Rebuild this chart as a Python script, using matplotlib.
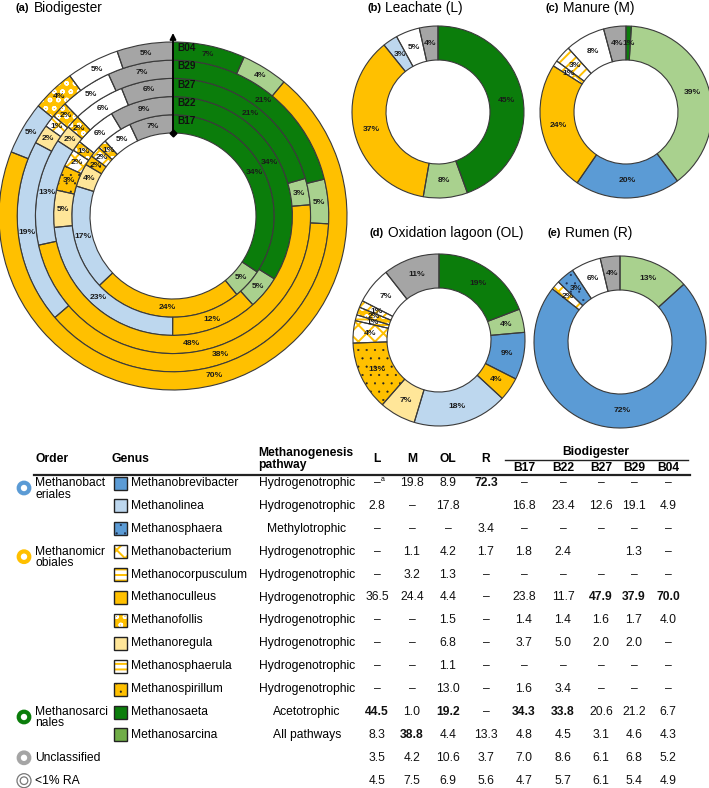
import numpy as np
import matplotlib
matplotlib.use("Agg")
import matplotlib.pyplot as plt
from matplotlib.patches import Rectangle, Circle

plt.rcParams['font.family'] = ['Liberation Sans', 'DejaVu Sans']
plt.rcParams['hatch.linewidth'] = 1.4

# ---------------- data ----------------
NA = np.nan   # blank cell
D = None      # dash "–"

genera = ["Methanobrevibacter", "Methanolinea", "Methanosphaera", "Methanobacterium",
          "Methanocorpusculum", "Methanoculleus", "Methanofollis", "Methanoregula",
          "Methanosphaerula", "Methanospirillum", "Methanosaeta", "Methanosarcina"]
pathways = ["Hydrogenotrophic", "Hydrogenotrophic", "Methylotrophic", "Hydrogenotrophic",
            "Hydrogenotrophic", "Hydrogenotrophic", "Hydrogenotrophic", "Hydrogenotrophic",
            "Hydrogenotrophic", "Hydrogenotrophic", "Acetotrophic", "All pathways"]
extra_rows = ["Unclassified", "<1% RA"]
orders = [("Methanobact", "eriales", 0), ("Methanomicr", "obiales", 3), ("Methanosarci", "nales", 10)]

samples = ["L", "M", "OL", "R", "B17", "B22", "B27", "B29", "B04"]
L   = [D, 2.8, D, D, D, 36.5, D, D, D, D, 44.5, 8.3, 3.5, 4.5]
M   = [19.8, D, D, 1.1, 3.2, 24.4, D, D, D, D, 1.0, 38.8, 4.2, 7.5]
OL  = [8.9, 17.8, D, 4.2, 1.3, 4.4, 1.5, 6.8, 1.1, 13.0, 19.2, 4.4, 10.6, 6.9]
R   = [72.3, NA, 3.4, 1.7, D, D, D, D, D, D, D, 13.3, 3.7, 5.6]
B17 = [D, 16.8, D, 1.8, D, 23.8, 1.4, 3.7, D, 1.6, 34.3, 4.8, 7.0, 4.7]
B22 = [D, 23.4, D, 2.4, D, 11.7, 1.4, 5.0, D, 3.4, 33.8, 4.5, 8.6, 5.7]
B27 = [D, 12.6, D, NA, D, 47.9, 1.6, 2.0, D, D, 20.6, 3.1, 6.1, 6.1]
B29 = [D, 19.1, D, 1.3, D, 37.9, 1.7, 2.0, D, D, 21.2, 4.6, 6.8, 5.4]
B04 = [D, 4.9, D, D, D, 70.0, 4.0, D, D, D, 6.7, 4.3, 5.2, 4.9]
table = {"L": L, "M": M, "OL": OL, "R": R, "B17": B17, "B22": B22,
         "B27": B27, "B29": B29, "B04": B04}
bold_cells = [(0, "R"), (5, "B27"), (5, "B29"), (5, "B04"), (10, "L"), (10, "OL"),
              (10, "B17"), (10, "B22"), (11, "M")]
bio_samples = ["B17", "B22", "B27", "B29", "B04"]   # inner -> outer

# clockwise order of segments in the donuts (indices into table rows)
donut_order = [10, 11, 0, 5, 1, 7, 9, 3, 2, 8, 6, 4, 13, 12]

# ---------------- styles ----------------
styles = {0: ('#5B9BD5', '', None), 1: ('#BDD7EE', '', None), 2: ('#5B9BD5', '..', '#1f2f4f'),
          3: ('white', 'xx', '#FFC000'), 4: ('white', '///', '#FFC000'),
          5: ('#FFC000', '', None), 6: ('#FFC000', 'oo', 'white'), 7: ('#FFE699', '', None),
          8: ('white', '---', '#FFC000'), 9: ('#FFC000', '..', '#222222'),
          10: ('#0B7D0B', '', None), 11: ('#A9D18E', '', None),
          12: ('#A5A5A5', '', None), 13: ('white', '', None)}
legend_override = {11: ('#70AD47', '', None), 4: ('white', '---', '#FFC000')}
thin_hatch = {'..': 0.3, 'oo': 1.0}
EDGE = '#3a3a3a'
W, H = 709, 788


def Y(y):
    return H - y


def valid(v):
    return v is not None and not (isinstance(v, float) and np.isnan(v))


def apply_hatch(p, hatch, hc):
    if hatch:
        p.set_hatch(hatch)
        p.set_edgecolor(hc)
        if hatch in thin_hatch and hasattr(p, 'set_hatch_linewidth'):
            p.set_hatch_linewidth(thin_hatch[hatch])
    else:
        p.set_edgecolor('none')
    p.set_linewidth(0)


fig = plt.figure(figsize=(W / 100, H / 100), dpi=100)
ax = fig.add_axes([0, 0, 1, 1])


def donut(vals_all, center, R, width, fs):
    idx = [i for i in donut_order if valid(vals_all[i])]
    vals = [vals_all[i] for i in idx]
    fills = [styles[i][0] for i in idx]
    wedges, _ = ax.pie(vals, colors=fills, startangle=90, counterclock=False,
                       radius=R, center=center,
                       wedgeprops=dict(width=width, linewidth=0))
    for w, i in zip(wedges, idx):
        fc, hatch, hc = styles[i]
        apply_hatch(w, hatch, hc)
    ax.pie(vals, colors=['none'] * len(vals), startangle=90, counterclock=False,
           radius=R, center=center,
           wedgeprops=dict(width=width, linewidth=0.8, edgecolor=EDGE))
    for w, v in zip(wedges, vals):
        th = np.deg2rad((w.theta1 + w.theta2) / 2)
        r = w.r - w.width / 2
        ax.text(center[0] + r * np.cos(th), center[1] + r * np.sin(th),
                f"{int(np.floor(v + 0.5))}%", ha='center', va='center',
                fontsize=fs, fontweight='bold', color='#1a1a1a', zorder=5)


# ---------------- panel (a) ----------------
cxa, cya = 173, Y(216)
r0, rw = 83, 18.2
for k, s in enumerate(bio_samples):
    donut(table[s], (cxa, cya), r0 + (k + 1) * rw, rw, 6.1)
    ax.text(cxa + 4, cya + r0 + (k + 0.5) * rw + 3, s, ha='left', va='center',
            fontsize=7.2, fontweight='bold', color='#111111', zorder=6)
ax.annotate('', xy=(cxa, Y(33)), xytext=(cxa, Y(133)),
            arrowprops=dict(arrowstyle='-|>', lw=1.3, color='black',
                            mutation_scale=9, shrinkA=0, shrinkB=0), zorder=7)
ax.plot([cxa], [Y(133)], marker='D', ms=3.5, color='black', zorder=7)

# ---------------- panels (b)-(e) ----------------
Rs, ws = 86, 34
donut(L, (438, Y(112)), Rs, ws, 6.1)
donut(M, (626, Y(112)), Rs, ws, 6.1)
donut(OL, (439, Y(340)), Rs, ws, 6.1)
donut(R, (620, Y(342)), Rs, ws, 6.1)

# titles
titles = [("(a)", "Biodigester", 16, 8), ("(b)", "Leachate (L)", 367, 8),
          ("(c)", "Manure (M)", 545, 8), ("(d)", "Oxidation lagoon (OL)", 370, 233),
          ("(e)", "Rumen (R)", 547, 233)]
for tag, name, x, y in titles:
    ax.text(x, Y(y), tag, fontsize=8, fontweight='bold', ha='left', va='center')
    ax.text(x + 18, Y(y), name, fontsize=9.9, ha='left', va='center')

# ---------------- table ----------------
FS = 8.7
col_x = [377, 412, 448, 486, 524, 563, 601, 634, 668]
row_y = [483 + 22.9 * i for i in range(14)]

# header
ax.text(35, Y(459), "Order", fontsize=FS, fontweight='bold', ha='left', va='center')
ax.text(112, Y(459), "Genus", fontsize=FS, fontweight='bold', ha='left', va='center')
ax.text(258, Y(453), "Methanogenesis", fontsize=FS, fontweight='bold', ha='left', va='center')
ax.text(258, Y(465), "pathway", fontsize=FS, fontweight='bold', ha='left', va='center')
for s, x in zip(samples[:4], col_x[:4]):
    ax.text(x, Y(459), s, fontsize=FS, fontweight='bold', ha='center', va='center')
ax.text(596, Y(452), "Biodigester", fontsize=FS, fontweight='bold', ha='center', va='center')
ax.plot([505, 688], [Y(460), Y(460)], color='#222222', lw=1.0)
for s, x in zip(samples[4:], col_x[4:]):
    ax.text(x, Y(467.5), s, fontsize=FS, fontweight='bold', ha='center', va='center')
ax.plot([34, 690], [Y(474.5), Y(474.5)], color='#222222', lw=1.6)

# rows
for i, g in enumerate(genera):
    y = row_y[i]
    fc, hatch, hc = legend_override.get(i, styles[i])
    rect = Rectangle((114, Y(y) - 6.5), 13, 13, facecolor=fc)
    apply_hatch(rect, hatch, hc)
    ax.add_patch(rect)
    ax.add_patch(Rectangle((114, Y(y) - 6.5), 13, 13, facecolor='none',
                           edgecolor='#222222', linewidth=1.0))
    ax.text(131, Y(y), g, fontsize=FS, ha='left', va='center')
    ax.text(307, Y(y), pathways[i], fontsize=FS, ha='center', va='center')

for j, s in enumerate(samples):
    vals = table[s]
    for i, v in enumerate(vals):
        y = row_y[i]
        if v is None:
            txt = "–"
        elif isinstance(v, float) and np.isnan(v):
            continue
        else:
            txt = f"{v:.1f}"
        bold = (i, s) in bold_cells
        ax.text(col_x[j], Y(y), txt, fontsize=FS, ha='center', va='center',
                fontweight='bold' if bold else 'normal', color='#111111')
# superscript a
ax.text(col_x[0] + 4, Y(row_y[0] - 4), "a", fontsize=5, ha='left', va='center')

# order labels and icons
order_colors = ['#5B9BD5', '#FFC000', '#0B7D0B']
for (l1, l2, ri), col in zip(orders, order_colors):
    y = row_y[ri]
    ax.text(35, Y(y), l1, fontsize=FS, ha='left', va='center')
    ax.text(35, Y(y + 11.5), l2, fontsize=FS, ha='left', va='center')
    ax.add_patch(Circle((24, Y(y + 5)), 5.3, fill=False, edgecolor=col, linewidth=3.0))
# unclassified / <1%
y = row_y[12]
ax.add_patch(Circle((24, Y(y)), 5.3, fill=False, edgecolor='#A5A5A5', linewidth=3.0))
ax.text(35, Y(y), extra_rows[0], fontsize=FS, ha='left', va='center')
y = row_y[13]
ax.add_patch(Circle((24, Y(y)), 7, fill=False, edgecolor='#777777', linewidth=0.9))
ax.add_patch(Circle((24, Y(y)), 3.8, fill=False, edgecolor='#777777', linewidth=0.9))
ax.text(35, Y(y), extra_rows[1], fontsize=FS, ha='left', va='center')

ax.set_xlim(0, W)
ax.set_ylim(0, H)
ax.set_aspect('equal')
ax.axis('off')
fig.savefig("out.png", dpi=100)
